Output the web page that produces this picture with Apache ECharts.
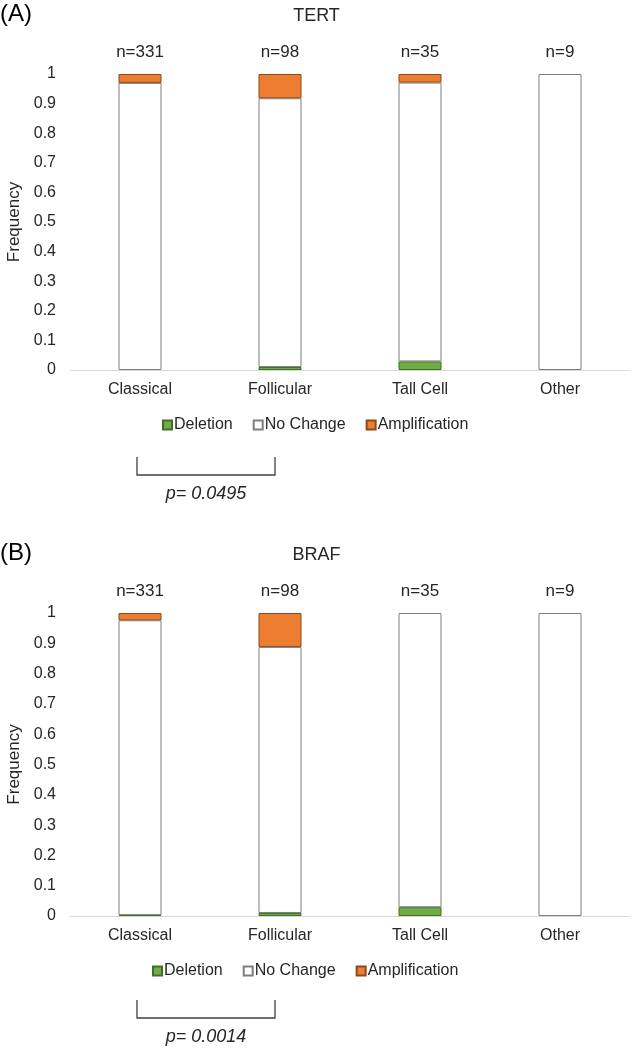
<!DOCTYPE html>
<html>
<head>
<meta charset="utf-8">
<script src="https://cdn.jsdelivr.net/npm/echarts@6/dist/echarts.min.js"></script>
<style>html,body{margin:0;padding:0;background:#fff;}#c{width:633px;height:1050px;}</style>
</head>
<body>
<div id="c"></div>
<script>
const categories = ['Classical', 'Follicular', 'Tall Cell', 'Other'];
const nLabels = ['n=331', 'n=98', 'n=35', 'n=9'];
const yTicks = { min: 0, max: 1, interval: 0.1 };

const tertDeletion = [0, 0.010, 0.029, 0];
const tertNoChange = [0.970, 0.908, 0.942, 1];
const tertAmplification = [0.030, 0.082, 0.029, 0];

const brafDeletion = [0.003, 0.010, 0.029, 0];
const brafNoChange = [0.973, 0.878, 0.971, 1];
const brafAmplification = [0.024, 0.112, 0, 0];

const panelTitles = ['TERT', 'BRAF'];
const panelLetters = ['(A)', '(B)'];
const pValues = ['p= 0.0495', 'p= 0.0014'];

const FONT = 'Liberation Sans, Arial, sans-serif';
const TXT = '#262626';
const styles = {
  Deletion: { color: '#70AD47', borderColor: '#3F6E26' },
  'No Change': { color: '#FFFFFF', borderColor: '#7F7F7F' },
  Amplification: { color: '#ED7D31', borderColor: '#8E4A1A' }
};

const grids = [
  { left: 70, width: 560, top: 74, height: 296, containLabel: false, outerBoundsMode: 'none' },
  { left: 70, width: 560, top: 613, height: 303, containLabel: false, outerBoundsMode: 'none' }
];

const xAxes = [], yAxes = [], series = [];
[0, 1].forEach(function (i) {
  xAxes.push({
    type: 'category', gridIndex: i, data: categories,
    axisLine: { lineStyle: { color: '#D9D9D9', width: 1 } },
    axisTick: { show: false },
    axisLabel: { color: TXT, fontSize: 16, fontFamily: FONT, margin: 12 }
  });
  xAxes.push({
    type: 'category', gridIndex: i, position: 'top', data: nLabels,
    axisLine: { show: false }, axisTick: { show: false },
    axisLabel: { color: TXT, fontSize: 17, fontFamily: FONT, margin: 13 }
  });
  yAxes.push({
    type: 'value', gridIndex: i, min: yTicks.min, max: yTicks.max, interval: yTicks.interval,
    name: 'Frequency', nameLocation: 'middle', nameGap: 45,
    nameTextStyle: { color: TXT, fontSize: 17, fontFamily: FONT },
    axisLine: { show: false }, axisTick: { show: false }, splitLine: { show: false },
    axisLabel: { color: TXT, fontSize: 16, fontFamily: FONT, margin: 14 }
  });
});

function addSeries(idx, name, data) {
  series.push({
    type: 'bar', name: name, stack: 'p' + idx, xAxisIndex: idx * 2, yAxisIndex: idx,
    data: data.map(function (v) { return v === 0 ? '-' : v; }), barWidth: 43,
    itemStyle: { color: styles[name].color, borderColor: styles[name].borderColor, borderWidth: 1 },
    emphasis: { disabled: true }
  });
}
addSeries(0, 'Deletion', tertDeletion);
addSeries(0, 'No Change', tertNoChange);
addSeries(0, 'Amplification', tertAmplification);
addSeries(1, 'Deletion', brafDeletion);
addSeries(1, 'No Change', brafNoChange);
addSeries(1, 'Amplification', brafAmplification);

const legendBase = {
  data: ['Deletion', 'No Change', 'Amplification'],
  icon: 'rect', itemWidth: 9, itemHeight: 9, itemGap: 20, padding: 0,
  selectedMode: false,
  textStyle: { color: TXT, fontSize: 16, fontFamily: FONT, padding: [0, 0, 0, -3] }
};

const chart = echarts.init(document.getElementById('c'), null, { renderer: 'canvas' });
chart.setOption({
  animation: false,
  backgroundColor: '#fff',
  title: [
    { text: panelLetters[0], left: 0, top: 2, padding: 0, textStyle: { fontSize: 24, fontWeight: 'normal', color: '#000', fontFamily: FONT } },
    { text: panelTitles[0], left: 'center', top: 7, padding: 0, textStyle: { fontSize: 18, fontWeight: 'normal', color: TXT, fontFamily: FONT } },
    { text: panelLetters[1], left: 0, top: 541, padding: 0, textStyle: { fontSize: 24, fontWeight: 'normal', color: '#000', fontFamily: FONT } },
    { text: panelTitles[1], left: 'center', top: 546, padding: 0, textStyle: { fontSize: 18, fontWeight: 'normal', color: TXT, fontFamily: FONT } }
  ],
  legend: [
    Object.assign({}, legendBase, { left: 162, top: 417 }),
    Object.assign({}, legendBase, { left: 152, top: 963 })
  ],
  grid: grids,
  xAxis: xAxes,
  yAxis: yAxes,
  series: series
});

// significance brackets (annotations) placed from axis positions
const graphics = [];
[0, 1].forEach(function (i) {
  const x1 = chart.convertToPixel({ xAxisIndex: i * 2 }, categories[0]) - 3;
  const x2 = chart.convertToPixel({ xAxisIndex: i * 2 }, categories[1]) - 5;
  const yBase = chart.convertToPixel({ yAxisIndex: i }, 0);
  const yTop = yBase + (i === 0 ? 87 : 84);
  const yBot = yTop + 18;
  graphics.push({
    type: 'polyline', silent: true,
    shape: { points: [[x1, yTop], [x1, yBot], [x2, yBot], [x2, yTop]] },
    style: { stroke: '#404040', lineWidth: 1.3, fill: null }
  });
  graphics.push({
    type: 'text', silent: true, x: (x1 + x2) / 2, y: yBot + 19,
    style: { text: pValues[i], fill: TXT, font: 'italic 18px ' + FONT, align: 'center', verticalAlign: 'middle' }
  });
});
chart.setOption({ graphic: graphics });
</script>
</body>
</html>
